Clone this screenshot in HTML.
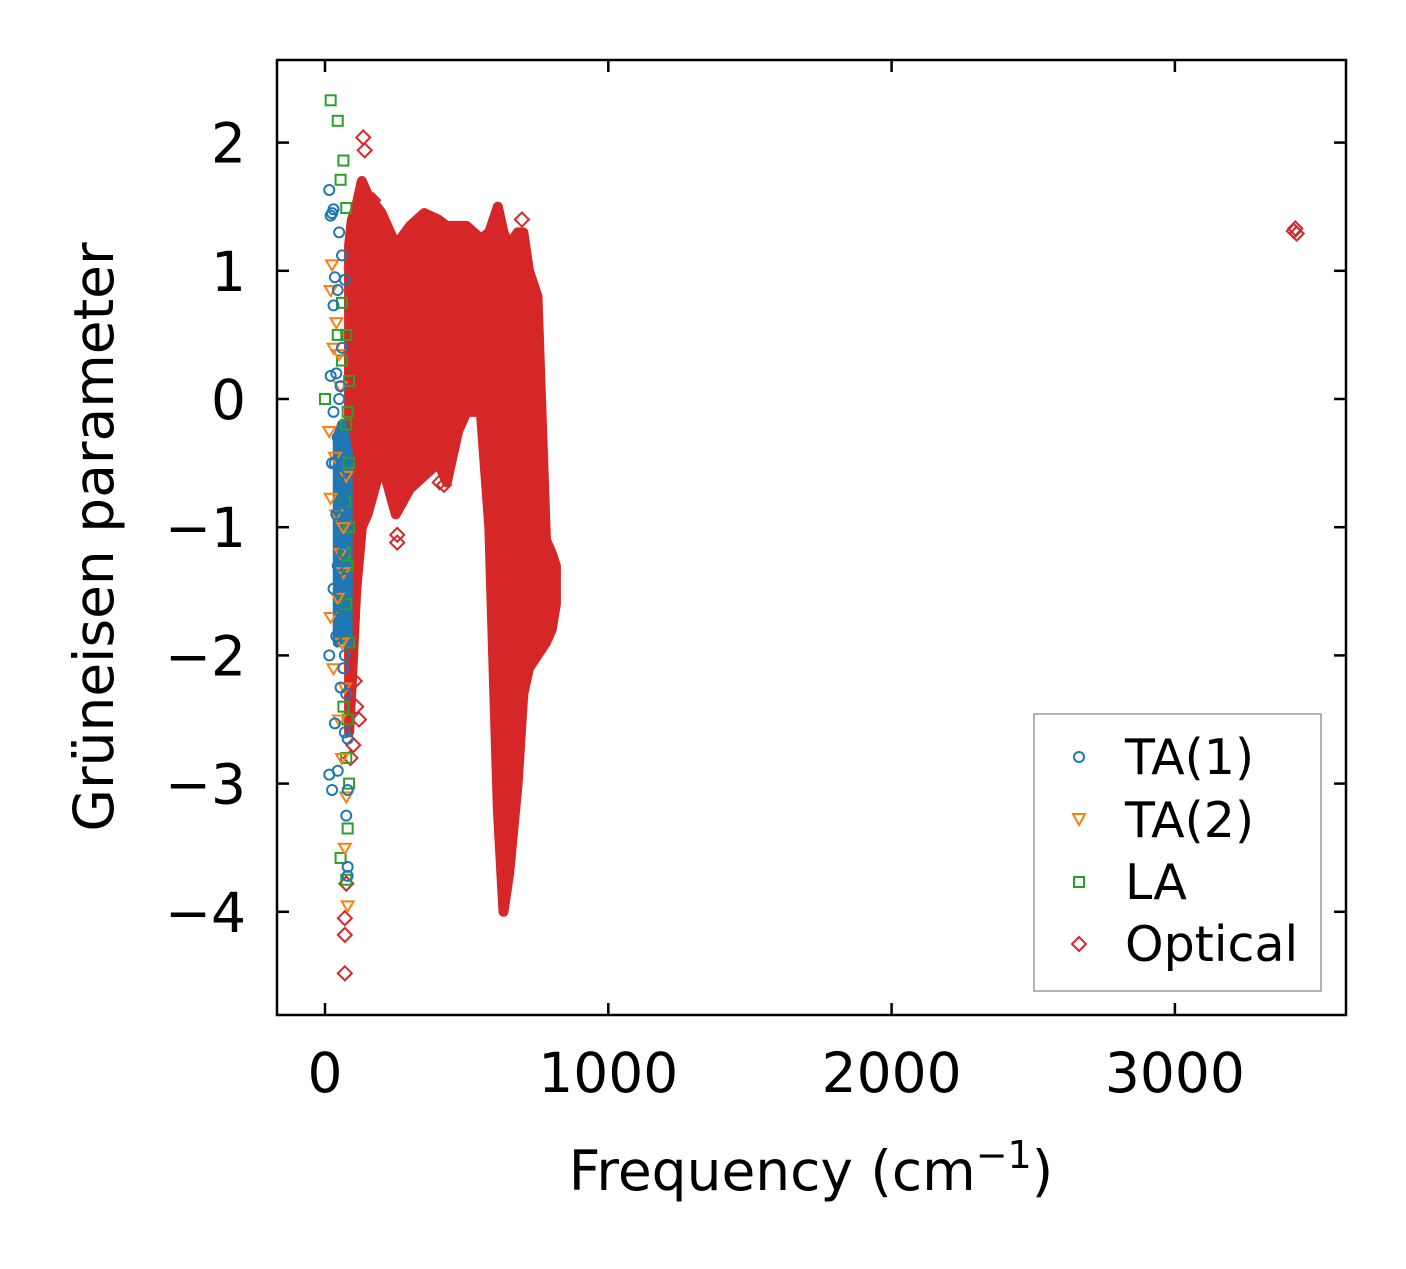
<!DOCTYPE html>
<html><head><meta charset="utf-8"><style>
body{margin:0;background:#fff}
svg text{font-family:"DejaVu Sans","Liberation Sans",sans-serif;fill:#000}
</style></head><body>
<svg id="chart" width="1406" height="1264" xmlns="http://www.w3.org/2000/svg">
<g id="marks"></g>
<rect x="277" y="60" width="1069" height="955" fill="none" stroke="#000" stroke-width="2.5"/>
<g id="axes"></g>
<text x="811" y="1190" font-size="55" text-anchor="middle">Frequency (cm<tspan dy="-22" font-size="38">−1</tspan><tspan dy="22">)</tspan></text>
<text transform="translate(113,537) rotate(-90)" font-size="55" text-anchor="middle">Grüneisen parameter</text>
<g>
<rect x="1034" y="714" width="287" height="277" fill="#fff" stroke="#999" stroke-width="1.5"/>
<circle cx="1079" cy="757" r="5" fill="none" stroke="#1f77b4" stroke-width="2"/>
<text x="1125" y="774" font-size="49">TA(1)</text>
<path d="M1073,814 L1085,814 L1079,825 Z" fill="none" stroke="#ff7f0e" stroke-width="2"/>
<text x="1125" y="837" font-size="49">TA(2)</text>
<rect x="1074" y="877" width="10" height="10" fill="none" stroke="#2ca02c" stroke-width="2"/>
<text x="1125" y="899" font-size="49">LA</text>
<path d="M1079,937 L1086,944 L1079,951 L1072,944 Z" fill="none" stroke="#d62728" stroke-width="2"/>
<text x="1125" y="961" font-size="49">Optical</text>
</g>
</svg>
<script>
const xTicks=[0,1000,2000,3000];
const yTicks=[2,1,0,-1,-2,-3,-4];
const yTickLabels=["2","1","0","−1","−2","−3","−4"];
// optical dense envelope
const optFreq=[85,95,110,130,150,200,250,300,350,400,430,470,500,550,580,610,630,650,680,700,720,750,780,800,815];
const optTop=[1.2,1.4,1.5,1.7,1.6,1.45,1.2,1.35,1.45,1.4,1.35,1.35,1.35,1.25,1.3,1.5,1.3,1.2,1.3,1.3,1.0,0.8,-1.1,-1.2,-1.3];
const optBot=[-2.6,-2.2,-1.5,-1.0,-0.9,-0.5,-0.9,-0.7,-0.6,-0.5,-0.65,-0.25,-0.1,-0.1,-1.0,-3.2,-4.0,-3.7,-3.0,-2.3,-2.1,-2.0,-1.9,-1.8,-1.6];
// blue dense band
const taBandFreq=[45,60,80];
const taBandTop=[-0.3,-0.2,-0.4];
const taBandBot=[-1.9,-1.8,-1.9];
const ta1F=[15,25,30,20,50,60,35,45,70,30,20,40,55,30,45,25,35,50,60,40,55,65,45,70,30,80,50,60,75,40,15,65,55,75,35,70,80,15,25,80,45,75,80,80,50,60,70,55,65];
const ta1G=[1.63,1.45,1.48,1.43,1.3,1.12,0.95,0.85,0.93,0.73,0.18,0.2,0.1,-0.1,-0.3,-0.5,-0.5,-0.6,-0.7,-0.9,-1.1,-1.2,-1.3,-1.4,-1.48,-1.45,-1.65,-1.7,-1.8,-1.85,-2.0,-2.1,-2.25,-2.3,-2.53,-2.6,-2.65,-2.93,-3.05,-3.05,-2.9,-3.25,-3.65,-3.72,0.0,0.4,-2.0,-1.1,-0.8];
const ta2F=[25,20,40,30,50,15,35,20,40,55,65,45,20,60,30,70,50,60,75,70,80,65,55,75];
const ta2G=[1.05,0.85,0.6,0.4,0.35,-0.25,-0.45,-0.77,-0.9,-1.2,-1.35,-1.55,-1.7,-1.9,-2.1,-2.25,-2.5,-2.8,-3.1,-3.5,-3.95,-1.0,0.1,-0.6];
const laF=[20,45,65,55,75,60,45,75,60,85,0,75,85,70,85,80,75,85,65,80,75,85,80,55,75,80,70];
const laG=[2.33,2.17,1.86,1.71,1.49,0.75,0.5,0.5,0.3,0.14,0.0,-0.2,-0.5,-0.8,-1.0,-1.3,-1.6,-1.9,-2.4,-2.5,-2.8,-3.0,-3.35,-3.58,-3.75,-0.1,-1.2];
const optF=[135,140,125,105,120,90,75,70,70,70,255,255,405,420,695,3420,3430,3425,170,160,100,110];
const optG=[2.04,1.94,1.0,-2.2,-2.5,-2.8,-3.78,-4.05,-4.18,-4.48,-1.06,-1.12,-0.65,-0.67,1.4,1.31,1.29,1.33,1.55,1.45,-2.7,-2.4];

const NS="http://www.w3.org/2000/svg";
const xs=v=>325+v*0.2833, ys=v=>399-v*128.2;
const marks=document.getElementById('marks'), axes=document.getElementById('axes');
function mk(t,a,p){const e=document.createElementNS(NS,t);for(const k in a)e.setAttribute(k,a[k]);p.appendChild(e);return e;}
function envelope(F,T,B,color,name){
  let pts=F.map((f,i)=>xs(f)+','+ys(T[i]));
  for(let i=F.length-1;i>=0;i--)pts.push(xs(F[i])+','+ys(B[i]));
  const e=mk('polygon',{points:pts.join(' '),fill:color,stroke:color,'stroke-width':10,'stroke-linejoin':'round'},marks);
  
  
}
envelope(optFreq,optTop,optBot,'#d62728','optical-dense-region');
envelope(taBandFreq,taBandTop,taBandBot,'#1f77b4','ta1-dense-region');
function pts(F,G,shape,color,name){
  F.forEach((f,i)=>{const x=xs(f),y=ys(G[i]);let e;
    if(shape==='c')e=mk('circle',{cx:x,cy:y,r:5,fill:'none',stroke:color,'stroke-width':2},marks);
    else if(shape==='t')e=mk('path',{d:`M${x-6},${y-4} L${x+6},${y-4} L${x},${y+6} Z`,fill:'none',stroke:color,'stroke-width':2},marks);
    else if(shape==='s')e=mk('rect',{x:x-5,y:y-5,width:10,height:10,fill:'none',stroke:color,'stroke-width':2},marks);
    else e=mk('path',{d:`M${x},${y-7} L${x+7},${y} L${x},${y+7} L${x-7},${y} Z`,fill:'none',stroke:color,'stroke-width':2},marks);
    
    
  });
}
pts(optF,optG,'d','#d62728','optical-point');
pts(laF,laG,'s','#2ca02c','la-point');
pts(ta2F,ta2G,'t','#ff7f0e','ta2-point');
pts(ta1F,ta1G,'c','#1f77b4','ta1-point');
xTicks.forEach(v=>{const x=xs(v);
  mk('line',{x1:x,x2:x,y1:1015,y2:1003,stroke:'#000','stroke-width':2.5},axes);
  mk('line',{x1:x,x2:x,y1:60,y2:72,stroke:'#000','stroke-width':2.5},axes);
  const t=mk('text',{x:x,y:1092,'font-size':55,'text-anchor':'middle'},axes);t.textContent=v;
  
  
});
yTicks.forEach((v,i)=>{const y=ys(v);
  mk('line',{x1:277,x2:289,y1:y,y2:y,stroke:'#000','stroke-width':2.5},axes);
  mk('line',{x1:1346,x2:1334,y1:y,y2:y,stroke:'#000','stroke-width':2.5},axes);
  const t=mk('text',{x:246,y:y+20,'font-size':55,'text-anchor':'end'},axes);t.textContent=yTickLabels[i];
  
  
});
</script>
</body></html>
